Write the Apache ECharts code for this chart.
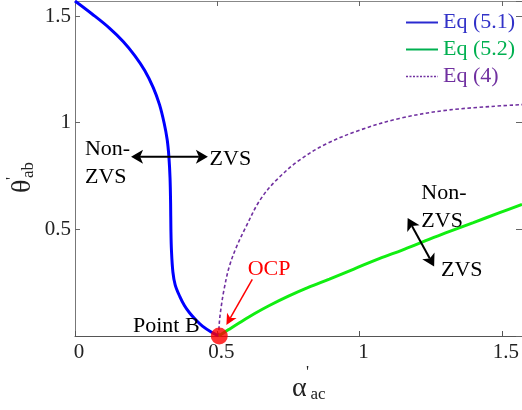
<!DOCTYPE html>
<html>
<head>
<meta charset="utf-8">
<script src="https://cdn.jsdelivr.net/npm/echarts@6/dist/echarts.min.js"></script>
<style>
  html, body { margin: 0; padding: 0; background: #fff; }
  #chart { width: 522px; height: 410px; }
</style>
</head>
<body>
<div id="chart"></div>
<script>
const HALF_PI = Math.PI / 2;
const SERIF = 'Liberation Serif, Tinos, DejaVu Serif, serif';

// Boundary curves, [alpha'_ac, theta'_ab]
const eq51 = [
  [0, 1.5708], [0.06, 1.51], [0.12, 1.445], [0.17, 1.38], [0.21, 1.315],
  [0.245, 1.245], [0.275, 1.165], [0.297, 1.085], [0.313, 1.0], [0.324, 0.92],
  [0.330, 0.84], [0.334, 0.74], [0.336, 0.62], [0.337, 0.50], [0.339, 0.40],
  [0.344, 0.30], [0.352, 0.24], [0.368, 0.186], [0.385, 0.142], [0.403, 0.108],
  [0.425, 0.075], [0.449, 0.045], [0.477, 0.02], [0.505, 0]
];
const eq52 = [
  [0.505, 0], [0.54, 0.030], [0.578, 0.062], [0.63, 0.104], [0.683, 0.143],
  [0.75, 0.187], [0.82, 0.228], [0.894, 0.267], [0.98, 0.314], [1.069, 0.363],
  [1.15, 0.403], [1.22, 0.44], [1.30, 0.482], [1.40, 0.532], [1.49, 0.577],
  [1.5708, 0.617]
];
const eq4 = [
  [0.505, 0], [0.507, 0.06], [0.513, 0.13], [0.524, 0.22], [0.541, 0.32],
  [0.565, 0.41], [0.600, 0.51], [0.649, 0.635], [0.707, 0.730], [0.789, 0.825],
  [0.882, 0.900], [1.0, 0.965], [1.14, 1.020], [1.315, 1.060], [1.5708, 1.085]
];
const pointB = [0.507, 0];

const seriesNames = ['Eq (5.1)', 'Eq (5.2)', 'Eq (4)'];

// Region notes, anchored in data units
const textNotes = [
  { text: 'Non-\nZVS', at: [0.035, 0.811], align: 'left',  color: '#000' },
  { text: 'ZVS',       at: [0.473, 0.831], align: 'left',  color: '#000' },
  { text: 'Non-\nZVS', at: [1.217, 0.605], align: 'left',  color: '#000' },
  { text: 'ZVS',       at: [1.286, 0.309], align: 'left',  color: '#000' },
  { text: 'OCP',       at: [0.607, 0.311], align: 'left',  color: '#ff0000' },
  { text: 'Point B',   at: [0.438, 0.046], align: 'right', color: '#000' }
];
// Arrows: from -> to, with heads at the listed ends
const arrowNotes = [
  { from: [0.197, 0.841], to: [0.467, 0.841], both: true,  color: '#000', width: 2 },
  { from: [1.169, 0.553], to: [1.262, 0.326], both: true,  color: '#000', width: 2 },
  { from: [0.623, 0.266], to: [0.532, 0.052], both: false, color: '#ff0000', width: 1.5 }
];

const chart = echarts.init(document.getElementById('chart'), null, { renderer: 'canvas' });

const tickLabel = { fontFamily: SERIF, fontSize: 21, color: '#222' };

chart.setOption({
  animation: false,
  backgroundColor: '#fff',
  textStyle: { fontFamily: SERIF },
  grid: { left: 75, top: 1, width: 448, height: 335, containLabel: false },
  legend: {
    orient: 'vertical',
    left: 405,
    top: 9,
    padding: 0,
    itemWidth: 32,
    itemHeight: 14,
    itemGap: 0,
    selectedMode: false,
    textStyle: { fontFamily: SERIF, fontSize: 22, lineHeight: 27 },
    data: [
      { name: seriesNames[0], textStyle: { color: '#3232c8' }, itemStyle: { opacity: 0 },
        lineStyle: { color: '#2a2ad0', width: 2, type: 'solid' } },
      { name: seriesNames[1], textStyle: { color: '#00b050' }, itemStyle: { opacity: 0 },
        lineStyle: { color: '#00b050', width: 2, type: 'solid' } },
      { name: seriesNames[2], textStyle: { color: '#7030a0' }, itemStyle: { opacity: 0 },
        lineStyle: { color: '#7030a0', width: 1.5, type: [2, 1.5] } }
    ]
  },
  xAxis: [{
    type: 'value', min: 0, max: HALF_PI, interval: 0.5, position: 'bottom',
    axisLine: { show: true, onZero: false, lineStyle: { color: '#555', width: 1 } },
    axisTick: { show: true, inside: true, length: 5, lineStyle: { color: '#555' } },
    axisLabel: Object.assign({ margin: 6, showMaxLabel: false, padding: [0, 0, 0, 8] }, tickLabel),
    splitLine: { show: false }
  }, {
    type: 'value', min: 0, max: HALF_PI, interval: 0.5, position: 'top',
    axisLine: { show: true, onZero: false, lineStyle: { color: '#888', width: 1 } },
    axisTick: { show: true, inside: true, length: 5, lineStyle: { color: '#666' } },
    axisLabel: { show: false },
    splitLine: { show: false }
  }],
  yAxis: [{
    type: 'value', min: 0, max: HALF_PI, interval: 0.5, position: 'left',
    axisLine: { show: true, onZero: false, lineStyle: { color: '#777', width: 1 } },
    axisTick: { show: true, inside: true, length: 5, lineStyle: { color: '#666' } },
    axisLabel: Object.assign({ margin: 4, showMinLabel: false, showMaxLabel: false, padding: [7, 0, 0, 0] }, tickLabel),
    splitLine: { show: false }
  }, {
    type: 'value', min: 0, max: HALF_PI, interval: 0.5, position: 'right',
    axisLine: { show: true, onZero: false, lineStyle: { color: '#888', width: 1 } },
    axisTick: { show: true, inside: true, length: 6, lineStyle: { color: '#666' } },
    axisLabel: { show: false },
    splitLine: { show: false }
  }],
  series: [
    {
      name: seriesNames[0], type: 'line', data: eq51, symbol: 'none', smooth: 0.35,
      lineStyle: { color: '#0000ff', width: 3 }, itemStyle: { color: '#0000ff' }, z: 3
    },
    {
      name: seriesNames[1], type: 'line', data: eq52, symbol: 'none', smooth: 0.35,
      lineStyle: { color: '#11ee11', width: 3 }, itemStyle: { color: '#11ee11' }, z: 3
    },
    {
      name: seriesNames[2], type: 'line', data: eq4, symbol: 'none', smooth: 0.35,
      lineStyle: { color: '#7030a0', width: 1.6, type: [3.5, 2.5] }, itemStyle: { color: '#7030a0' }, z: 2
    },
    {
      name: 'Point B', type: 'scatter', data: [pointB], symbol: 'circle', symbolSize: 17,
      itemStyle: { color: '#ff0000' }, clip: false, z: 5, silent: true
    }
  ]
});

// Axis titles and annotations drawn on top of the grid
function px(p) { return chart.convertToPixel({ gridIndex: 0 }, p); }

function headPoints(tip, from, len, halfW, notch) {
  const dx = tip[0] - from[0], dy = tip[1] - from[1];
  const d = Math.hypot(dx, dy);
  const ux = dx / d, uy = dy / d;
  const nx = -uy, ny = ux;
  const bx = tip[0] - ux * len, by = tip[1] - uy * len;
  const mx = tip[0] - ux * notch, my = tip[1] - uy * notch;
  return [tip, [bx + nx * halfW, by + ny * halfW], [mx, my], [bx - nx * halfW, by - ny * halfW]];
}

const graphics = [];

arrowNotes.forEach(a => {
  const p0 = px(a.from), p1 = px(a.to);
  const len = a.both ? 12 : 11, halfW = a.both ? 7 : 5.5, notch = a.both ? 9 : 8;
  const d = Math.hypot(p1[0] - p0[0], p1[1] - p0[1]);
  const ux = (p1[0] - p0[0]) / d, uy = (p1[1] - p0[1]) / d;
  const s0 = a.both ? [p0[0] + ux * notch, p0[1] + uy * notch] : p0;
  const s1 = [p1[0] - ux * notch, p1[1] - uy * notch];
  graphics.push({ type: 'line', z: 20, shape: { x1: s0[0], y1: s0[1], x2: s1[0], y2: s1[1] },
    style: { stroke: a.color, lineWidth: a.width } });
  graphics.push({ type: 'polygon', z: 20, shape: { points: headPoints(p1, p0, len, halfW, notch) },
    style: { fill: a.color } });
  if (a.both) {
    graphics.push({ type: 'polygon', z: 20, shape: { points: headPoints(p0, p1, len, halfW, notch) },
      style: { fill: a.color } });
  }
});

textNotes.forEach(n => {
  const p = px(n.at);
  graphics.push({ type: 'text', z: 21, x: p[0], y: p[1],
    style: { text: n.text, fill: n.color, fontFamily: SERIF, fontSize: 22, align: n.align,
      verticalAlign: 'middle', lineHeight: 28.5 } });
});

function piece(x, y, text, size) {
  return { type: 'text', x: x, y: y,
    style: { text: text, fill: '#222', fontFamily: SERIF, fontSize: size, align: 'left', verticalAlign: 'middle' } };
}

// x-axis title: alpha'_ac
graphics.push({ type: 'group', z: 21, children: [
  piece(292, 388.8, 'α', 28),
  piece(306, 372.8, "'", 17),
  piece(310.5, 394.4, 'ac', 17)
]});

// y-axis title: theta'_ab, reading upward
graphics.push({ type: 'group', z: 21, x: 32, y: 193, rotation: Math.PI / 2, children: [
  piece(0, -9.2, 'θ', 28),
  piece(13, -19.2, "'", 17),
  piece(15, -3.6, 'ab', 17)
]});

chart.setOption({ graphic: graphics });
</script>
</body>
</html>
